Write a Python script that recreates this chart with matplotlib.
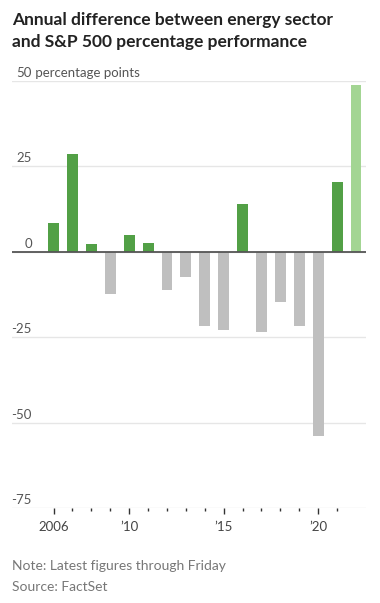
import matplotlib
matplotlib.use("Agg")
import matplotlib.pyplot as plt
from matplotlib.transforms import blended_transform_factory, offset_copy

plt.rcParams['font.family'] = ['Lato', 'DejaVu Sans']

# annual difference, energy sector minus S&P 500 (percentage points)
years = list(range(2006, 2023))
diff = [8.3, 28.6, 2.2, -12.5, 5.0, 2.5, -11.2, -7.3, -21.6, -23.0,
        13.9, -23.5, -14.7, -21.6, -54.0, 20.4, 48.7]
latest_year = 2022

y_ticks = [50, 25, 0, -25, -50, -75]
y_labels = ["50", "25", "0", "-25", "-50", "-75"]
x_ticks = [2006, 2010, 2015, 2020]
x_labels = ["2006", "\u201910", "\u201915", "\u201920"]

green = "#52a046"
light_green = "#a3d593"
grey = "#bfbfbf"

fig = plt.figure(figsize=(3.8, 6.03), dpi=100)
ax = fig.add_axes([12 / 380, 1 - 508.3 / 603, 354 / 380, (508.3 - 80.7) / 603])

colors = []
for y, v in zip(years, diff):
    if y == latest_year:
        colors.append(light_green)
    elif v >= 0:
        colors.append(green)
    else:
        colors.append(grey)

for t in y_ticks:
    ax.axhline(t, color="#e6e6e6", lw=1, zorder=0)
ax.bar(years, diff, width=0.58, color=colors, zorder=2)
ax.axhline(0, color="#555555", lw=1.3, zorder=3)

ax.set_xlim(2003.8, 2022.53)
ax.set_ylim(-75, 50)
for s in ax.spines.values():
    s.set_visible(False)
ax.set_yticks([])
ax.set_xticks(x_ticks)
ax.set_xticklabels(x_labels, fontsize=9.5, color="#444444")
ax.set_xticks([y for y in range(2006, 2022) if y not in x_ticks], minor=True)
ax.tick_params(axis="x", which="major", length=4, width=1, color="#333333", pad=5)
ax.tick_params(axis="x", which="minor", length=2, width=1, color="#333333")

# y labels sit above their gridlines, right aligned
trans = blended_transform_factory(ax.transAxes, ax.transData)
for t, lab in zip(y_ticks, y_labels):
    txt = ax.text(20 / 354, t, lab, transform=offset_copy(trans, fig=fig, y=2, units="dots"),
                  ha="right", va="bottom", fontsize=9.5, color="#555555")
    if t == 50:
        ax.annotate(" percentage points", xy=(1, 0), xycoords=txt,
                    ha="left", va="bottom", fontsize=9.5, color="#555555")

fig.text(12 / 380, 1 - 25 / 603, "Annual difference between energy sector",
         fontsize=12.5, fontweight="bold", color="#222222", ha="left", va="baseline")
fig.text(12 / 380, 1 - 47 / 603, "and S&P 500 percentage performance",
         fontsize=12.5, fontweight="bold", color="#222222", ha="left", va="baseline")

fig.text(12 / 380, 1 - 570 / 603, "Note: Latest figures through Friday",
         fontsize=10, color="#777777", ha="left", va="baseline")
fig.text(12 / 380, 1 - 591 / 603, "Source: FactSet",
         fontsize=10, color="#777777", ha="left", va="baseline")

fig.savefig("out.png", dpi=100)
